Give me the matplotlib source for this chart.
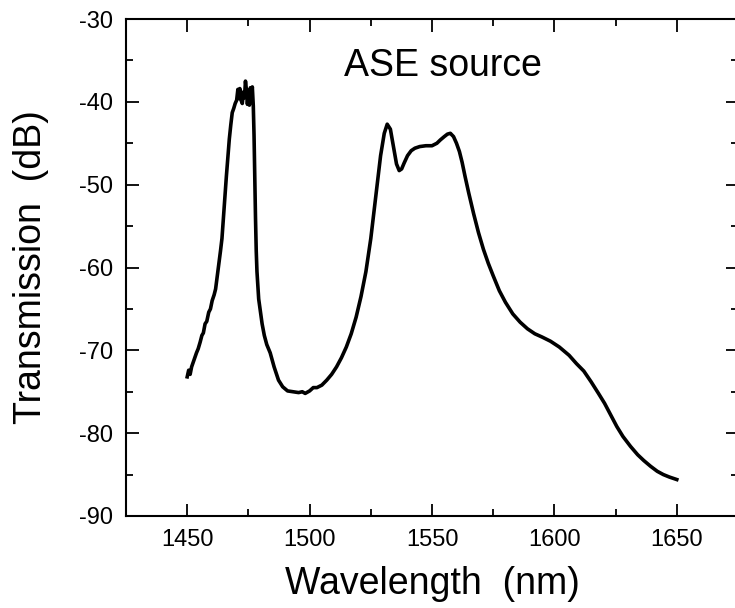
import matplotlib
matplotlib.use("Agg")
import matplotlib.pyplot as plt
from matplotlib.ticker import MultipleLocator

plt.rcParams['font.family'] = ['Liberation Sans', 'DejaVu Sans']
plt.rcParams['axes.unicode_minus'] = False

# Wavelength (nm) and transmission (dB)
wavelength = [1450.0, 1450.6, 1451.2, 1451.8, 1452.4, 1453.0, 1453.8, 1454.5, 1455.3, 1456.0,
              1456.6, 1457.3, 1458.0, 1458.8, 1459.5, 1460.2, 1461.0, 1461.6, 1462.3, 1463.0,
              1463.6, 1464.2, 1464.8, 1465.4, 1466.0, 1466.6, 1467.2, 1467.8, 1468.4, 1469.0,
              1469.6, 1470.2, 1470.7, 1471.1, 1471.5, 1472.0, 1472.5, 1473.0, 1473.4, 1473.8,
              1474.2, 1474.6, 1475.0, 1475.4, 1475.8, 1476.2, 1476.6, 1477.0, 1477.3, 1477.6,
              1477.9, 1478.2, 1478.5, 1478.8, 1479.2, 1479.8, 1480.6, 1481.5, 1482.5, 1483.9,
              1485.5, 1487.3, 1489.0, 1491.0, 1493.4, 1495.5, 1497.0, 1498.2, 1500.0, 1501.5,
              1503.0, 1505.0, 1507.0, 1509.0, 1511.0, 1513.0, 1515.0, 1517.0, 1519.0, 1521.0,
              1523.0, 1525.0, 1527.0, 1529.0, 1530.5, 1531.7, 1533.0, 1534.3, 1535.5, 1536.6,
              1537.6, 1538.6, 1540.0, 1541.5, 1543.0, 1545.0, 1547.5, 1550.0, 1552.0, 1553.4,
              1555.0, 1556.3, 1557.5, 1558.8, 1560.0, 1561.2, 1562.3, 1563.5, 1565.0, 1567.0,
              1569.0, 1571.0, 1573.0, 1575.0, 1577.5, 1580.0, 1583.0, 1586.0, 1589.0, 1592.0,
              1595.0, 1598.4, 1602.0, 1606.0, 1609.0, 1612.0, 1615.0, 1618.0, 1620.5, 1623.0,
              1625.5, 1628.0, 1631.1, 1634.0, 1636.5, 1639.3, 1642.0, 1644.5, 1647.0, 1650.0]
transmission = [-73.2, -72.4, -72.9, -72.0, -71.5, -71.0, -70.3, -69.8, -69.0, -68.2,
                -67.9, -66.8, -66.5, -65.4, -65.0, -64.0, -63.3, -62.6, -61.0, -59.5,
                -58.0, -56.5, -54.0, -51.5, -49.0, -46.8, -44.5, -42.8, -41.3, -40.8,
                -40.2, -39.8, -38.5, -39.6, -38.4, -39.8, -40.2, -38.8, -39.5, -37.5,
                -38.6, -40.3, -38.9, -40.4, -38.3, -39.6, -38.2, -40.5, -44.0, -49.0,
                -54.0, -58.0, -60.5, -62.0, -63.8, -65.1, -66.8, -68.2, -69.3, -70.3,
                -72.0, -73.6, -74.4, -74.9, -75.0, -75.1, -75.0, -75.2, -74.9, -74.5,
                -74.5, -74.2, -73.6, -72.9, -72.0, -70.9, -69.6, -68.0, -66.0, -63.5,
                -60.5, -56.5, -51.5, -46.5, -43.8, -42.7, -43.3, -45.5, -47.5, -48.3,
                -48.1, -47.4, -46.5, -45.9, -45.6, -45.4, -45.3, -45.3, -45.0, -44.6,
                -44.2, -43.9, -43.8, -44.2, -45.0, -46.0, -47.3, -49.0, -51.0, -53.5,
                -55.8, -57.8, -59.5, -61.0, -62.8, -64.2, -65.6, -66.6, -67.4, -68.0,
                -68.4, -68.9, -69.6, -70.6, -71.6, -72.5, -73.8, -75.2, -76.4, -77.8,
                -79.2, -80.4, -81.6, -82.6, -83.3, -84.0, -84.6, -85.0, -85.3, -85.6]

x_major_ticks = [1450, 1500, 1550, 1600, 1650]
y_major_ticks = [-90, -80, -70, -60, -50, -40, -30]

fig = plt.figure(figsize=(7.35, 6.08), dpi=100)
ax = fig.add_axes([126/735, 1 - 516/608, (738 - 126)/735, (516 - 19)/608])

ax.plot(wavelength, transmission, color='black', lw=2.6, solid_joinstyle='round')

ax.set_xlim(1425, 1675)
ax.set_ylim(-90, -30)
ax.set_xticks(x_major_ticks)
ax.set_yticks(y_major_ticks)
ax.xaxis.set_minor_locator(MultipleLocator(25))
ax.yaxis.set_minor_locator(MultipleLocator(5))
ax.tick_params(which='both', direction='in', top=True, right=True, labelsize=17, width=1.3)
ax.tick_params(which='major', length=9, pad=9)
ax.tick_params(which='minor', length=5)
for s in ax.spines.values():
    s.set_linewidth(1.5)

ax.set_xlabel('Wavelength  (nm)', fontsize=27, labelpad=11)
ax.set_ylabel('Transmission  (dB)', fontsize=27, labelpad=22)
ax.text(1554.4, -35.7, 'ASE source', fontsize=27, ha='center', va='center')

fig.savefig('out.png', dpi=100)
